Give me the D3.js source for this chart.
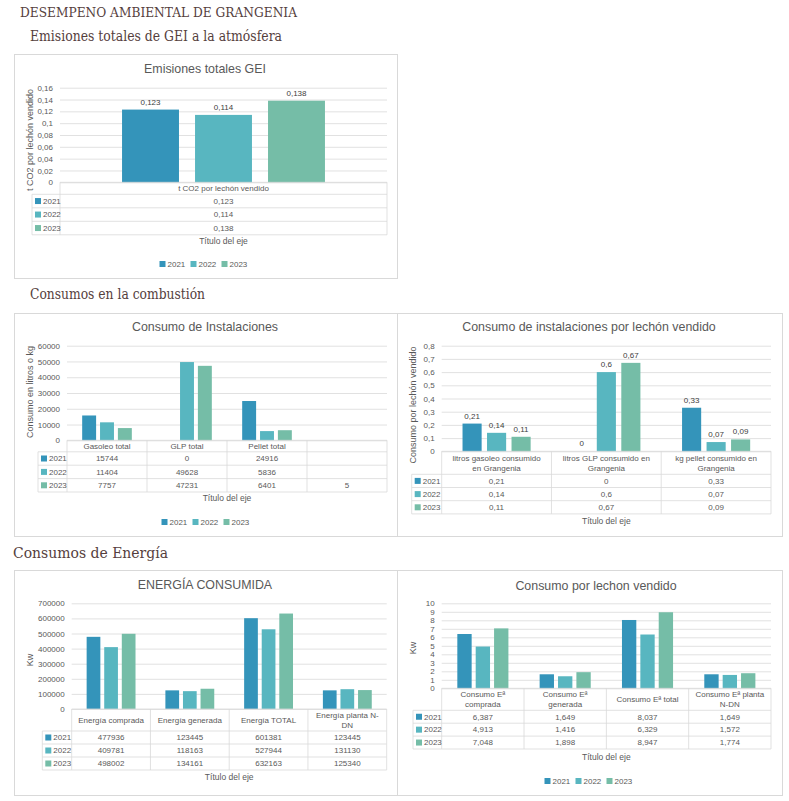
<!DOCTYPE html>
<html>
<head>
<meta charset="utf-8">
<script src="https://cdn.jsdelivr.net/npm/d3@7"></script>
<style>
body{margin:0;background:#fff;}
svg text{font-family:"Liberation Sans",Arial,sans-serif;}
.head{font-family:"DejaVu Serif",serif;fill:#55403d;}
</style>
</head>
<body>
<div class="container"></div>
<script>
// ---- data ----
var years = ["2021", "2022", "2023"];
var colors = ["#3494BA", "#58B6C0", "#75BDA7"];

var geiCategories = ["t CO2 por lechón vendido"];
var gei2021 = [0.123];
var gei2022 = [0.114];
var gei2023 = [0.138];
var geiTicks = [0, 0.02, 0.04, 0.06, 0.08, 0.1, 0.12, 0.14, 0.16];

var instCategories = ["Gasoleo total", "GLP total", "Pellet total", ""];
var inst2021 = [15744, 0, 24916, null];
var inst2022 = [11404, 49628, 5836, null];
var inst2023 = [7757, 47231, 6401, 5];
var instTicks = [0, 10000, 20000, 30000, 40000, 50000, 60000];

var porCategories = ["litros gasoleo consumido\nen Grangenia", "litros GLP consumido en\nGrangenia", "kg pellet consumido en\nGrangenia"];
var por2021 = [0.21, 0, 0.33];
var por2022 = [0.14, 0.6, 0.07];
var por2023 = [0.11, 0.67, 0.09];
var porTicks = [0, 0.1, 0.2, 0.3, 0.4, 0.5, 0.6, 0.7, 0.8];

var eneCategories = ["Energía comprada", "Energía generada", "Energía TOTAL", "Energía planta N-\nDN"];
var ene2021 = [477936, 123445, 601381, 123445];
var ene2022 = [409781, 118163, 527944, 131130];
var ene2023 = [498002, 134161, 632163, 125340];
var eneTicks = [0, 100000, 200000, 300000, 400000, 500000, 600000, 700000];

var lecCategories = ["Consumo Eª\ncomprada", "Consumo Eª\ngenerada", "Consumo Eª total", "Consumo Eª planta\nN-DN"];
var lec2021 = [6.387, 1.649, 8.037, 1.649];
var lec2022 = [4.913, 1.416, 6.329, 1.572];
var lec2023 = [7.048, 1.898, 8.947, 1.774];
var lecTicks = [0, 1, 2, 3, 4, 5, 6, 7, 8, 9, 10];

var width = 789, height = 801;
var textColor = "#595959", gridColor = "#d9d9d9";

var svg = d3.select(".container")
  .append("svg")
  .attr("width", width)
  .attr("height", height);

function fmt(v){
  if (v === null || v === undefined) return "";
  return String(v).replace(".", ",");
}

// page headings
svg.append("text").attr("class", "head")
  .attr("x", 20).attr("y", 17)
  .attr("font-size", 12)
  .attr("textLength", 277).attr("lengthAdjust", "spacingAndGlyphs")
  .text("DESEMPENO AMBIENTAL DE GRANGENIA");
svg.append("text").attr("class", "head")
  .attr("x", 30).attr("y", 41)
  .attr("font-size", 14)
  .attr("textLength", 252).attr("lengthAdjust", "spacingAndGlyphs")
  .text("Emisiones totales de GEI a la atmósfera");
svg.append("text").attr("class", "head")
  .attr("x", 30).attr("y", 299)
  .attr("font-size", 14)
  .attr("textLength", 175).attr("lengthAdjust", "spacingAndGlyphs")
  .text("Consumos en la combustión");
svg.append("text").attr("class", "head")
  .attr("x", 13).attr("y", 558)
  .attr("font-size", 14)
  .attr("textLength", 155).attr("lengthAdjust", "spacingAndGlyphs")
  .text("Consumos de Energía");

function drawChart(cfg){

  var g = svg.append("g");

  g.append("rect")
    .attr("x", cfg.box[0] + 0.5)
    .attr("y", cfg.box[1] + 0.5)
    .attr("width", cfg.box[2] - cfg.box[0])
    .attr("height", cfg.box[3] - cfg.box[1])
    .attr("fill", "#fff")
    .attr("stroke", gridColor);

  g.append("text")
    .attr("x", cfg.titleX)
    .attr("y", cfg.titleY)
    .attr("dy", "0.35em")
    .attr("text-anchor", "middle")
    .attr("font-size", 12.4)
    .attr("fill", textColor)
    .text(cfg.title);

  var n = cfg.categories.length;

  var y = d3.scaleLinear()
    .domain([0, d3.max(cfg.ticks)])
    .range([cfg.yBot, cfg.yTop]);

  var x0 = d3.scaleBand()
    .domain(d3.range(n))
    .range([cfg.x0, cfg.x1]);

  var x1 = d3.scaleBand()
    .domain(years)
    .range([0, x0.bandwidth()])
    .paddingInner(0.22)
    .paddingOuter(0.85);

  // gridlines
  var grid = g.append("g")
    .attr("transform", "translate(" + cfg.x0 + ",0)")
    .call(d3.axisLeft(y).tickValues(cfg.ticks).tickSize(-(cfg.x1 - cfg.x0)).tickFormat(""));
  grid.select(".domain").remove();
  grid.selectAll("line").attr("stroke", gridColor).attr("stroke-width", 0.8);

  // tick labels
  var axis = g.append("g")
    .attr("transform", "translate(" + (cfg.x0 - 7) + ",0)")
    .call(d3.axisLeft(y).tickValues(cfg.ticks).tickSize(0).tickPadding(0).tickFormat(fmt));
  axis.select(".domain").remove();
  axis.selectAll("text")
    .attr("font-size", 8)
    .attr("fill", textColor)
    .attr("font-family", "Liberation Sans, Arial, sans-serif");

  // y title
  g.append("text")
    .attr("transform", "translate(" + cfg.yTitleX + "," + cfg.yTitleY + ") rotate(-90)")
    .attr("text-anchor", "middle")
    .attr("dy", "0.35em")
    .attr("font-size", 9)
    .attr("fill", textColor)
    .text(cfg.yTitle);

  // bars
  var barData = [];
  cfg.series.forEach(function(vals, i){
    vals.forEach(function(v, j){
      if (v !== null) barData.push({cat: j, year: years[i], color: colors[i], value: v});
    });
  });

  g.selectAll(".bar")
    .data(barData)
    .enter()
    .append("rect")
    .attr("class", "bar")
    .attr("x", function(d){ return x0(d.cat) + x1(d.year); })
    .attr("width", x1.bandwidth())
    .attr("y", function(d){ return y(d.value); })
    .attr("height", function(d){ return y(0) - y(d.value); })
    .attr("fill", function(d){ return d.color; });

  if (cfg.labels){
    g.selectAll(".dlabel")
      .data(barData)
      .enter()
      .append("text")
      .attr("class", "dlabel")
      .attr("x", function(d){ return x0(d.cat) + x1(d.year) + x1.bandwidth() / 2; })
      .attr("y", function(d){ return y(d.value) - 5; })
      .attr("text-anchor", "middle")
      .attr("font-size", 8)
      .attr("fill", "#404040")
      .text(function(d){ return fmt(d.value); });
  }

  // data table
  var headBot = cfg.yBot + cfg.headH;
  var tabBot = headBot + cfg.rowH * years.length;
  var lines = g.append("g").attr("stroke", gridColor).attr("stroke-width", 0.8);

  lines.append("line")
    .attr("x1", cfg.x0).attr("x2", cfg.x1)
    .attr("y1", cfg.yBot).attr("y2", cfg.yBot);
  d3.range(years.length + 1).forEach(function(r){
    var yy = headBot + r * cfg.rowH;
    lines.append("line")
      .attr("x1", cfg.legX).attr("x2", cfg.x1)
      .attr("y1", yy).attr("y2", yy);
  });
  d3.range(n + 1).forEach(function(k){
    var xx = k < n ? x0(k) : x0(n - 1) + x0.bandwidth();
    lines.append("line")
      .attr("x1", xx).attr("x2", xx)
      .attr("y1", cfg.yBot).attr("y2", tabBot);
  });
  lines.append("line")
    .attr("x1", cfg.legX).attr("x2", cfg.legX)
    .attr("y1", headBot).attr("y2", tabBot);

  // header
  cfg.categories.forEach(function(c, j){
    var parts = c.split("\n");
    var cx = x0(j) + x0.bandwidth() / 2;
    var cy = cfg.yBot + cfg.headH / 2 - (parts.length - 1) * 5;
    parts.forEach(function(p, k){
      g.append("text")
        .attr("x", cx)
        .attr("y", cy + k * 10)
        .attr("dy", "0.35em")
        .attr("text-anchor", "middle")
        .attr("font-size", 8)
        .attr("fill", textColor)
        .text(p);
    });
  });

  // rows
  years.forEach(function(yr, i){
    var cy = headBot + cfg.rowH * i + cfg.rowH / 2;
    g.append("rect")
      .attr("x", cfg.legX + 3)
      .attr("y", cy - 3)
      .attr("width", 6)
      .attr("height", 6)
      .attr("fill", colors[i]);
    g.append("text")
      .attr("x", cfg.legX + 11)
      .attr("y", cy)
      .attr("dy", "0.35em")
      .attr("font-size", 8)
      .attr("fill", textColor)
      .text(yr);
    cfg.series[i].forEach(function(v, j){
      g.append("text")
        .attr("x", x0(j) + x0.bandwidth() / 2)
        .attr("y", cy)
        .attr("dy", "0.35em")
        .attr("text-anchor", "middle")
        .attr("font-size", 8)
        .attr("fill", textColor)
        .text(fmt(v));
    });
  });

  g.append("text")
    .attr("x", (cfg.x0 + cfg.x1) / 2)
    .attr("y", cfg.axisTitleY)
    .attr("dy", "0.35em")
    .attr("text-anchor", "middle")
    .attr("font-size", 8.5)
    .attr("fill", textColor)
    .text("Título del eje");

  // legend
  if (cfg.legendY){
    var itemW = 31;
    var lx = cfg.legendX - itemW * years.length / 2;
    years.forEach(function(yr, i){
      g.append("rect")
        .attr("x", lx + i * itemW)
        .attr("y", cfg.legendY - 3)
        .attr("width", 6)
        .attr("height", 6)
        .attr("fill", colors[i]);
      g.append("text")
        .attr("x", lx + i * itemW + 8)
        .attr("y", cfg.legendY)
        .attr("dy", "0.35em")
        .attr("font-size", 8)
        .attr("fill", textColor)
        .text(yr);
    });
  }
}

drawChart({
  box: [14, 54, 397, 278], title: "Emisiones totales GEI", titleX: 205, titleY: 69,
  categories: geiCategories, series: [gei2021, gei2022, gei2023], ticks: geiTicks,
  x0: 60, x1: 387, yTop: 87.7, yBot: 182.3, headH: 12, rowH: 13.5, legX: 32,
  yTitle: "t CO2 por lechón vendido", yTitleX: 30, yTitleY: 140,
  axisTitleY: 241, legendX: 206, legendY: 264, labels: true
});

drawChart({
  box: [14, 313, 397, 536], title: "Consumo de Instalaciones", titleX: 205, titleY: 327,
  categories: instCategories, series: [inst2021, inst2022, inst2023], ticks: instTicks,
  x0: 67, x1: 387, yTop: 345.7, yBot: 440.3, headH: 11.5, rowH: 13.4, legX: 38,
  yTitle: "Consumo en litros o kg", yTitleX: 30, yTitleY: 392,
  axisTitleY: 498, legendX: 208, legendY: 522, labels: false
});

drawChart({
  box: [397, 313, 782, 536], title: "Consumo de instalaciones por lechón vendido", titleX: 589, titleY: 327,
  categories: porCategories, series: [por2021, por2022, por2023], ticks: porTicks,
  x0: 441.7, x1: 771, yTop: 345.7, yBot: 451.3, headH: 23, rowH: 13.2, legX: 411.7,
  yTitle: "Consumo por lechón vendido", yTitleX: 413, yTitleY: 405,
  axisTitleY: 521, legendY: null, labels: true
});

drawChart({
  box: [14, 570, 397, 795], title: "ENERGÍA CONSUMIDA", titleX: 205, titleY: 585,
  categories: eneCategories, series: [ene2021, ene2022, ene2023], ticks: eneTicks,
  x0: 71.7, x1: 386.7, yTop: 603.3, yBot: 709, headH: 22, rowH: 13, legX: 42.3,
  yTitle: "Kw", yTitleX: 30, yTitleY: 660,
  axisTitleY: 777, legendY: null, labels: false
});

drawChart({
  box: [397, 570, 782, 795], title: "Consumo por lechon vendido", titleX: 596, titleY: 585.7,
  categories: lecCategories, series: [lec2021, lec2022, lec2023], ticks: lecTicks,
  x0: 441.7, x1: 771, yTop: 603.3, yBot: 688.3, headH: 22, rowH: 12.9, legX: 413,
  yTitle: "Kw", yTitleX: 413, yTitleY: 648,
  axisTitleY: 757, legendX: 591, legendY: 781, labels: false
});
</script>
</body>
</html>
